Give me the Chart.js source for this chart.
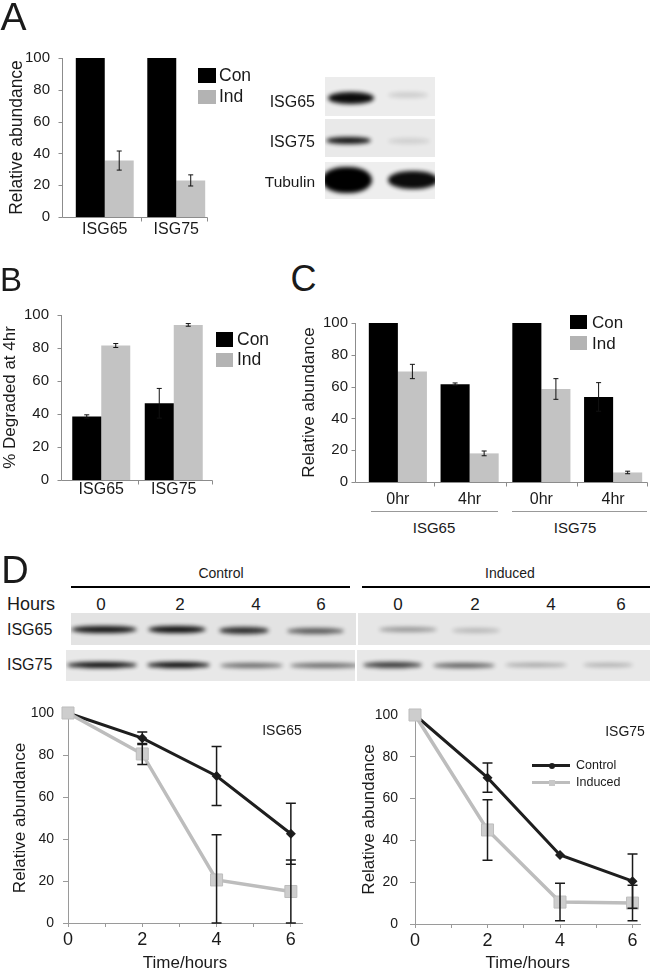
<!DOCTYPE html>
<html>
<head>
<meta charset="utf-8">
<script src="https://cdn.jsdelivr.net/npm/chart.js@4.4.1/dist/chart.umd.min.js"></script>
<style>
html, body { margin: 0; padding: 0; background: #fff; }
body { width: 650px; height: 974px; position: relative; overflow: hidden; font-family: "Liberation Sans", Arial, sans-serif; color: #1a1a1a; }
canvas { position: absolute; }
.t, .tl, .tr { position: absolute; line-height: 1; white-space: nowrap; }
.t { transform: translate(-50%, -50%); }
.tl { transform: translate(0, -50%); }
.tr { transform: translate(-100%, -50%); }
.sq, .rule { position: absolute; }
.blot { position: absolute; overflow: hidden; }
.band { position: absolute; background: #000; border-radius: 45% / 50%; filter: blur(2px); }
</style>
</head>
<body>

<!-- panel letters -->
<div class="t" style="left:13.5px;top:16px;font-size:39px">A</div>
<div class="t" style="left:11px;top:279px;font-size:33px">B</div>
<div class="t" style="left:303.5px;top:278.5px;font-size:36px">C</div>
<div class="t" style="left:15px;top:570px;font-size:38px">D</div>

<!-- legends of the bar charts -->
<div class="sq" style="left:198px;top:68px;width:18px;height:15px;background:#000"></div>
<div class="tl" style="left:219px;top:75.5px;font-size:17.5px">Con</div>
<div class="sq" style="left:198px;top:90px;width:18px;height:14px;background:#b3b3b3"></div>
<div class="tl" style="left:219px;top:97px;font-size:17.5px">Ind</div>

<div class="sq" style="left:216px;top:332px;width:17px;height:15px;background:#000"></div>
<div class="tl" style="left:237px;top:339.5px;font-size:17.5px">Con</div>
<div class="sq" style="left:216px;top:353px;width:17px;height:14px;background:#b3b3b3"></div>
<div class="tl" style="left:237px;top:360px;font-size:17.5px">Ind</div>

<div class="sq" style="left:570px;top:315px;width:17px;height:14px;background:#000"></div>
<div class="tl" style="left:592px;top:321.5px;font-size:17px">Con</div>
<div class="sq" style="left:570px;top:336px;width:17px;height:14px;background:#b3b3b3"></div>
<div class="tl" style="left:592px;top:342.5px;font-size:17px">Ind</div>

<!-- blot A labels -->
<div class="tr" style="left:315px;top:102px;font-size:16px">ISG65</div>
<div class="tr" style="left:315px;top:142px;font-size:16px">ISG75</div>
<div class="tr" style="left:315px;top:182px;font-size:15.5px">Tubulin</div>

<!-- C group labels -->
<div class="rule" style="left:371px;top:511px;width:127px;height:1px;background:#999"></div>
<div class="rule" style="left:512px;top:511px;width:135px;height:1px;background:#999"></div>
<div class="t" style="left:434px;top:527px;font-size:15px">ISG65</div>
<div class="t" style="left:575px;top:527px;font-size:15px">ISG75</div>

<!-- D blot header -->
<div class="t" style="left:221px;top:573px;font-size:14px">Control</div>
<div class="t" style="left:510px;top:573px;font-size:14px">Induced</div>
<div class="rule" style="left:71px;top:586px;width:279px;height:2px;background:#000"></div>
<div class="rule" style="left:362px;top:586px;width:288px;height:2px;background:#000"></div>
<div class="tl" style="left:7px;top:604px;font-size:18px">Hours</div>
<div id="hourLabels"></div>
<div class="tl" style="left:7px;top:630px;font-size:16px">ISG65</div>
<div class="tl" style="left:7px;top:665px;font-size:16px">ISG75</div>

<script>
const FONT = '"Liberation Sans", Arial, Helvetica, sans-serif';
Chart.defaults.font.family = FONT;
Chart.defaults.color = '#1a1a1a';
Chart.defaults.animation = false;

// ---- data ----
const aGenes = ['ISG65', 'ISG75'];
const aCon = [100, 100];
const aConErr = [0, 0];
const aInd = [35.5, 23];
const aIndErr = [6, 3.5];

const bGenes = ['ISG65', 'ISG75'];
const bCon = [38.5, 46.5];
const bConErr = [1, 9];
const bInd = [81.5, 94];
const bIndErr = [1.2, 0.8];

const cTimes = ['0hr', '4hr', '0hr', '4hr'];
const cCon = [100, 61.5, 100, 53.5];
const cConErr = [0, 0.8, 0, 9];
const cInd = [69.5, 18, 58.5, 6];
const cIndErr = [4.5, 1.5, 6.5, 0.8];

const dHours = [0, 2, 4, 6];
const d65Con = [100, 88, 70, 42.5];
const d65ConErr = [0, 3, 14, 14.5];
const d65Ind = [100, 80.5, 20.5, 15];
const d65IndErr = [0, 5, 21.5, 15];
const d75Con = [100, 70, 33, 20.5];
const d75ConErr = [0, 7, 0, 13];
const d75Ind = [100, 45, 10.5, 10];
const d75IndErr = [0, 14.5, 9, 8.5];

const CON_COLOR = '#000000';
const IND_COLOR = '#c3c3c3';

// ---- plugins ----
const errorBars = {
    id: 'errorBars',
    afterDatasetsDraw(chart, args, opts) {
        const ctx = chart.ctx;
        const y = chart.scales.y;
        chart.data.datasets.forEach((ds, i) => {
            if (!ds.errors) return;
            chart.getDatasetMeta(i).data.forEach((el, j) => {
                const e = ds.errors[j];
                if (!e) return;
                const raw = ds.data[j];
                const v = typeof raw === 'object' ? raw.y : raw;
                const top = y.getPixelForValue(v + e);
                const bot = y.getPixelForValue(Math.max(v - e, y.min));
                ctx.save();
                ctx.strokeStyle = opts.color;
                ctx.lineWidth = opts.width;
                ctx.beginPath();
                ctx.moveTo(el.x, top);
                ctx.lineTo(el.x, bot);
                ctx.moveTo(el.x - opts.cap, top);
                ctx.lineTo(el.x + opts.cap, top);
                ctx.moveTo(el.x - opts.cap, bot);
                ctx.lineTo(el.x + opts.cap, bot);
                ctx.stroke();
                ctx.restore();
            });
        });
    }
};

// excel style axes: y axis sits a little left of the first category
const barAxes = {
    id: 'barAxes',
    beforeDatasetsDraw(chart, args, opts) {
        const { ctx, chartArea: a, scales: { x, y } } = chart;
        const x0 = Math.round(a.left - opts.gap) + 0.5;
        const x1 = Math.round(a.right - opts.trim) + 0.5;
        const yb = Math.round(a.bottom) + 0.5;
        ctx.save();
        ctx.strokeStyle = '#8c8c8c';
        ctx.lineWidth = 1;
        ctx.beginPath();
        ctx.moveTo(x0, y.getPixelForValue(y.max));
        ctx.lineTo(x0, yb);
        y.ticks.forEach(t => {
            const py = Math.round(y.getPixelForValue(t.value)) + 0.5;
            ctx.moveTo(x0 - 4, py);
            ctx.lineTo(x0, py);
        });
        ctx.moveTo(x0, yb);
        ctx.lineTo(x1, yb);
        for (let i = 1; i < x.ticks.length; i++) {
            const px = Math.round((x.getPixelForValue(i - 1) + x.getPixelForValue(i)) / 2) + 0.5;
            ctx.moveTo(px, yb);
            ctx.lineTo(px, yb + 4);
        }
        ctx.moveTo(x1, yb);
        ctx.lineTo(x1, yb + 4);
        ctx.stroke();
        ctx.restore();
    }
};

// ---- helpers ----
function makeCanvas(box) {
    const c = document.createElement('canvas');
    c.width = box.w;
    c.height = box.h;
    c.style.left = box.x + 'px';
    c.style.top = box.y + 'px';
    document.body.insertBefore(c, document.body.firstChild);
    return c;
}

function frame(box, area) {
    return {
        padding: { top: area.top - box.y, right: box.x + box.w - area.right, left: 0, bottom: 0 },
        yWidth: area.left - box.x,
        xHeight: box.y + box.h - area.bottom
    };
}

function barChart(box, area, cfg) {
    const f = frame(box, area);
    return new Chart(makeCanvas(box), {
        type: 'bar',
        data: {
            labels: cfg.labels,
            datasets: [
                { label: 'Con', data: cfg.con, errors: cfg.conErr, backgroundColor: CON_COLOR, categoryPercentage: cfg.catPct, barPercentage: 1 },
                { label: 'Ind', data: cfg.ind, errors: cfg.indErr, backgroundColor: IND_COLOR, categoryPercentage: cfg.catPct, barPercentage: 1 }
            ]
        },
        options: {
            responsive: false,
            animation: false,
            layout: { padding: f.padding },
            plugins: {
                legend: { display: false },
                tooltip: { enabled: false },
                errorBars: { cap: 2.5, width: 1, color: '#111' },
                barAxes: { gap: cfg.gap, trim: cfg.trim }
            },
            scales: {
                x: {
                    grid: { display: false, drawTicks: false },
                    border: { display: false },
                    ticks: { font: { size: 16 }, padding: cfg.xPad },
                    afterFit: s => { s.height = f.xHeight; }
                },
                y: {
                    min: 0,
                    max: 100,
                    grid: { display: false, drawTicks: false },
                    border: { display: false },
                    ticks: { stepSize: 20, font: { size: 15 }, padding: cfg.yPad },
                    title: { display: true, text: cfg.title, font: { size: cfg.titleSize }, padding: { top: cfg.titlePad, bottom: 0 } },
                    afterFit: s => { s.width = f.yWidth; }
                }
            }
        },
        plugins: [barAxes, errorBars]
    });
}

function lineChart(box, area, cfg) {
    const f = frame(box, area);
    const pts = ys => dHours.map((h, i) => ({ x: h, y: ys[i] }));
    const axisGrid = { display: true, drawOnChartArea: false, drawTicks: true, tickLength: 4, color: '#9a9a9a' };
    return new Chart(makeCanvas(box), {
        type: 'line',
        data: {
            datasets: [
                {
                    label: 'Induced', data: pts(cfg.ind), errors: cfg.indErr,
                    borderColor: '#bdbdbd', borderWidth: 3.5,
                    pointStyle: 'rect', pointRadius: 8.5,
                    pointBackgroundColor: '#cdcdcd', pointBorderColor: '#bdbdbd', pointBorderWidth: 1,
                    clip: false
                },
                {
                    label: 'Control', data: pts(cfg.con), errors: cfg.conErr,
                    borderColor: '#1e1e1e', borderWidth: 3,
                    pointStyle: 'rectRot', pointRadius: 5,
                    pointBackgroundColor: '#1e1e1e', pointBorderWidth: 0,
                    clip: false
                }
            ]
        },
        options: {
            responsive: false,
            animation: false,
            layout: { padding: f.padding },
            plugins: {
                legend: { display: false },
                tooltip: { enabled: false },
                errorBars: { cap: 5, width: 1.5, color: '#1a1a1a' }
            },
            scales: {
                x: {
                    type: 'linear',
                    min: 0,
                    max: cfg.xMax,
                    grid: axisGrid,
                    border: { color: '#9a9a9a' },
                    ticks: {
                        stepSize: 1, includeBounds: false, autoSkip: false, maxRotation: 0,
                        font: { size: 18 }, padding: 2,
                        callback: v => (v % 2 === 0 ? v : '')
                    },
                    title: { display: true, text: 'Time/hours', font: { size: 17 }, padding: { top: 0, bottom: 0 } },
                    afterFit: s => { s.height = f.xHeight; }
                },
                y: {
                    min: 0,
                    max: 100,
                    grid: Object.assign({}, axisGrid, { tickLength: 5 }),
                    border: { color: '#9a9a9a' },
                    ticks: { stepSize: 20, font: { size: 14 }, padding: cfg.yPad },
                    title: { display: true, text: 'Relative abundance', font: { size: 17 }, padding: { top: cfg.titlePad, bottom: 0 } },
                    afterFit: s => { s.width = f.yWidth; }
                }
            }
        },
        plugins: [errorBars]
    });
}

function blot(x, y, w, h, bg, bands) {
    const d = document.createElement('div');
    d.className = 'blot';
    Object.assign(d.style, { left: x + 'px', top: y + 'px', width: w + 'px', height: h + 'px', background: bg });
    bands.forEach(([bx, bw, cy, bh, op]) => {
        const b = document.createElement('div');
        b.className = 'band';
        Object.assign(b.style, { left: (bx - x) + 'px', top: (cy - y - bh / 2) + 'px', width: bw + 'px', height: bh + 'px', opacity: op });
        d.appendChild(b);
    });
    document.body.appendChild(d);
}

// ---- panel A ----
barChart({ x: 0, y: 30, w: 225, h: 215 }, { left: 69, right: 212, top: 46, bottom: 217 }, {
    labels: aGenes, con: aCon, conErr: aConErr, ind: aInd, indErr: aIndErr,
    catPct: 0.81, gap: 7, trim: 5, xPad: 3, yPad: 19,
    title: 'Relative abundance', titleSize: 17.5, titlePad: 6.5
});

blot(325, 77, 110, 39, '#ececec', [[328, 46, 98, 12, 0.95], [388, 40, 95, 6, 0.12]]);
blot(325, 119, 110, 38, '#e9e9e9', [[326, 45, 140, 7, 0.9], [388, 42, 141, 6, 0.1]]);
blot(325, 162, 110, 37, '#eeeeee', [[322, 50, 180, 26, 1], [388, 50, 180, 18, 0.95]]);

// ---- panel B ----
barChart({ x: 0, y: 290, w: 225, h: 215 }, { left: 65, right: 210, top: 310, bottom: 482 }, {
    labels: bGenes, con: bCon, conErr: bConErr, ind: bInd, indErr: bIndErr,
    catPct: 0.8, gap: 4, trim: -2, xPad: 0, yPad: 16,
    title: '% Degraded at 4hr', titleSize: 17, titlePad: 0
});

// ---- panel C ----
barChart({ x: 296, y: 300, w: 354, h: 210 }, { left: 362, right: 649, top: 321, bottom: 482 }, {
    labels: cTimes, con: cCon, conErr: cConErr, ind: cInd, indErr: cIndErr,
    catPct: 0.81, gap: 7, trim: 2, xPad: 8, yPad: 14,
    title: 'Relative abundance', titleSize: 17, titlePad: 3
});

// ---- panel D blots ----
const laneCenters = [101, 180, 256, 321, 398, 475, 551, 621];
const hourBox = document.getElementById('hourLabels');
laneCenters.forEach((cx, i) => {
    const el = document.createElement('div');
    el.className = 't';
    el.style.cssText = 'left:' + cx + 'px;top:604px;font-size:17px';
    el.textContent = dHours[i % dHours.length];
    hourBox.appendChild(el);
});

blot(71, 613, 285, 32, '#e3e3e3', [[71, 66, 629, 7, 0.9], [148, 58, 629, 7, 0.92], [219, 50, 630, 7, 0.8], [287, 57, 631, 6, 0.6]]);
blot(358, 613, 292, 32, '#e6e6e6', [[379, 58, 629, 5, 0.35], [452, 48, 630, 5, 0.2]]);
blot(66, 650, 289, 31, '#e8e8e8', [[67, 70, 665, 6, 0.95], [147, 63, 665, 6, 0.95], [220, 63, 665, 5, 0.55], [290, 70, 665, 5, 0.55]]);
blot(357, 650, 293, 31, '#e8e8e8', [[363, 59, 665, 6, 0.75], [433, 62, 665, 5, 0.6], [505, 62, 665, 4, 0.3], [583, 50, 665, 4, 0.25]]);

// ---- panel D line charts ----
lineChart({ x: 0, y: 690, w: 320, h: 284 }, { left: 68, right: 302, top: 713, bottom: 923 }, {
    con: d65Con, conErr: d65ConErr, ind: d65Ind, indErr: d65IndErr,
    xMax: 6.3, yPad: 9, titlePad: 10
});
lineChart({ x: 330, y: 690, w: 320, h: 284 }, { left: 415, right: 645, top: 715, bottom: 924 }, {
    con: d75Con, conErr: d75ConErr, ind: d75Ind, indErr: d75IndErr,
    xMax: 6.22, yPad: 12, titlePad: 29
});
</script>

<!-- labels and legend inside the line charts -->
<div class="t" style="left:282px;top:730px;font-size:14px">ISG65</div>
<div class="t" style="left:625px;top:731px;font-size:14px">ISG75</div>
<div class="rule" style="left:532px;top:764px;width:38px;height:3px;background:#1e1e1e"></div>
<div class="rule" style="left:548.5px;top:762.5px;width:6px;height:6px;border-radius:50%;background:#1e1e1e"></div>
<div class="tl" style="left:576px;top:765px;font-size:12.5px">Control</div>
<div class="rule" style="left:532px;top:781px;width:38px;height:3px;background:#bdbdbd"></div>
<div class="rule" style="left:548.5px;top:779.5px;width:6px;height:6px;background:#c8c8c8"></div>
<div class="tl" style="left:576px;top:782px;font-size:12.5px">Induced</div>

</body>
</html>
